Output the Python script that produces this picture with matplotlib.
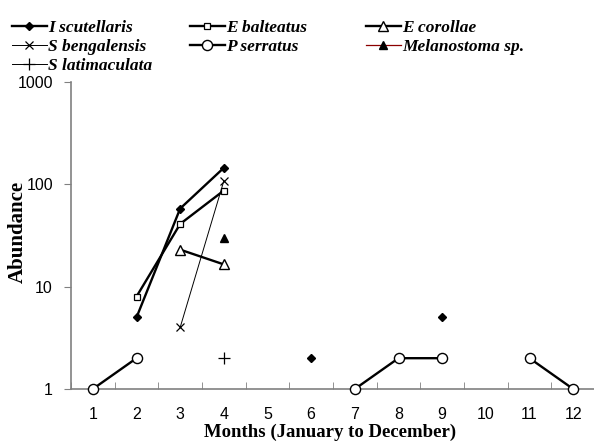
import numpy as np
import matplotlib
matplotlib.use("Agg")
import matplotlib.pyplot as plt
from matplotlib.lines import Line2D

nan = np.nan
months = np.arange(1, 13)
month_labels = [str(m) for m in months]

# abundance per month (nan = no record)
i_scutellaris = [nan, 5, 58, 145, nan, 2, nan, nan, 5, nan, nan, nan]
e_balteatus = [nan, 8, 41, 87, nan, nan, nan, nan, nan, nan, nan, nan]
e_corollae = [nan, nan, 23, 16.5, nan, nan, nan, nan, nan, nan, nan, nan]
s_bengalensis = [nan, nan, 4, 108, nan, nan, nan, nan, nan, nan, nan, nan]
p_serratus = [1, 2, nan, nan, nan, nan, 1, 2, 2, nan, 2, 1]
melanostoma = [nan, nan, nan, 30, nan, nan, nan, nan, nan, nan, nan, nan]
s_latimaculata = [nan, nan, nan, 2, nan, nan, nan, nan, nan, nan, nan, nan]

y_ticks = [1, 10, 100, 1000]

fig = plt.figure(figsize=(5.94, 4.41), dpi=100)
ax = fig.add_axes([71 / 594, 1 - 389 / 441, 524 / 594, (389 - 82) / 441])

styles = {
    "I scutellaris": dict(color="black", lw=1.7, marker="D", ms=4.2, mfc="black", mec="black"),
    "E balteatus": dict(color="black", lw=1.7, marker="s", ms=5, mfc="white", mec="black", mew=0.9),
    "E corollae": dict(color="black", lw=1.7, marker="^", ms=7.5, mfc="white", mec="black", mew=1),
    "S bengalensis": dict(color="black", lw=0.7, marker="x", ms=6, mec="black", mew=0.9),
    "P serratus": dict(color="black", lw=1.7, marker="o", ms=7.3, mfc="white", mec="black", mew=1),
    "Melanostoma sp.": dict(color="#8b0000", lw=0.9, marker="^", ms=5.5, mfc="black", mec="black"),
    "S latimaculata": dict(color="black", lw=0.7, marker="+", ms=8, mec="black", mew=0.9),
}
data = {
    "I scutellaris": i_scutellaris,
    "E balteatus": e_balteatus,
    "E corollae": e_corollae,
    "S bengalensis": s_bengalensis,
    "P serratus": p_serratus,
    "Melanostoma sp.": melanostoma,
    "S latimaculata": s_latimaculata,
}

for name, vals in data.items():
    ax.plot(months, vals, clip_on=False, zorder=3, **styles[name])

ax.set_yscale("log")
ax.set_ylim(1, 1000)
ax.set_yticks(y_ticks)
ax.set_yticklabels([str(t) for t in y_ticks])
ax.yaxis.set_minor_locator(matplotlib.ticker.NullLocator())
ax.set_xlim(0.5, 12.5)
ax.set_xticks(months)
ax.set_xticklabels(month_labels)
ax.set_xticks(np.arange(0.5, 13.0, 1.0), minor=True)

ax.tick_params(axis="x", which="major", length=0, pad=13)
ax.tick_params(axis="x", which="minor", direction="in", length=5, color="#808080")
ax.tick_params(axis="y", which="major", direction="out", length=5, pad=8, color="#808080")
for lab in ax.get_xticklabels() + ax.get_yticklabels():
    lab.set_fontfamily("Liberation Sans")
    lab.set_fontsize(11.5)

for s in ["top", "right"]:
    ax.spines[s].set_visible(False)
for s in ["left", "bottom"]:
    ax.spines[s].set_color("#808080")
    ax.spines[s].set_linewidth(1.2)

fig.text(330 / 594, 1 - 432 / 441, "Months (January to December)", ha="center", va="center",
         fontfamily="Liberation Serif", fontweight="bold", fontsize=13.5)
fig.text(18 / 594, 1 - 232 / 441, "Abundance", ha="center", va="center", rotation=90,
         fontfamily="Liberation Serif", fontweight="bold", fontsize=15)

# legend laid out row-wise in three fixed columns
legend_cols = [
    (12, ["I scutellaris", "S bengalensis", "S latimaculata"]),
    (190, ["E balteatus", "P serratus"]),
    (366, ["E corollae", "Melanostoma sp."]),
]
for x0, names in legend_cols:
    hs = [Line2D([], [], label=n, **styles[n]) for n in names]
    fig.legend(handles=hs, loc="upper left", bbox_to_anchor=(x0 / 594, 1 - 20 / 441),
               frameon=False, numpoints=1, handlelength=2.0, handletextpad=0.1,
               labelspacing=0.15, borderaxespad=0, borderpad=0,
               prop=dict(family="Liberation Serif", weight="bold", style="italic", size=12.5))

fig.savefig("out.png", dpi=100)
